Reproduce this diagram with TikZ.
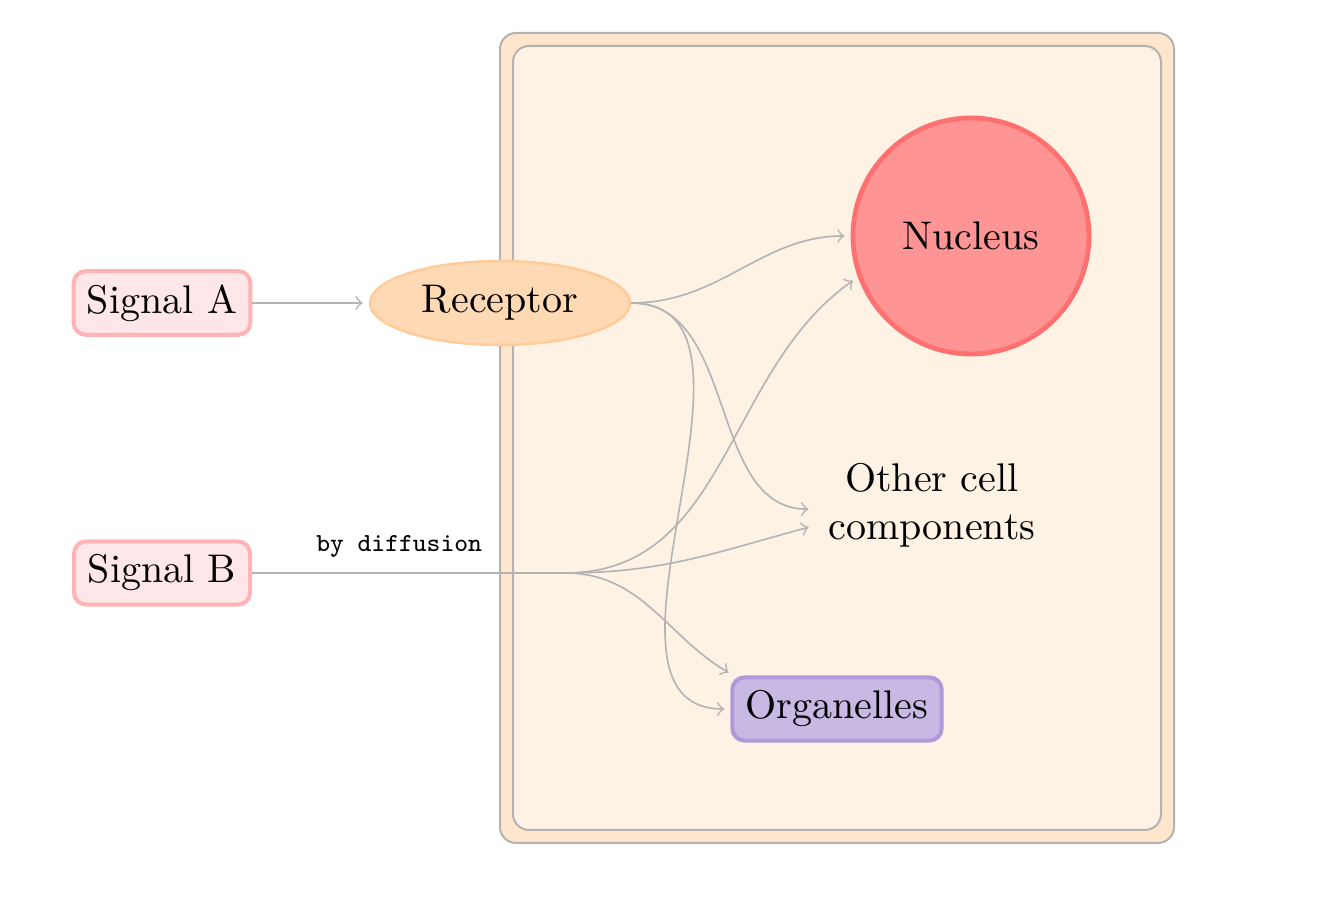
\documentclass[tikz,border=0pt]{standalone}
\usetikzlibrary{shapes.geometric}
\definecolor{conngray}{HTML}{B3B3B3}
\definecolor{cellfillA}{HTML}{FFE6CC}
\definecolor{cellfillB}{HTML}{FEF2E4}
\definecolor{sigfill}{HTML}{FFE6E8}
\definecolor{sigdraw}{HTML}{FFB3B5}
\definecolor{recfill}{HTML}{FFD9B3}
\definecolor{recdraw}{HTML}{FFCC99}
\definecolor{nucfill}{HTML}{FF9494}
\definecolor{nucdraw}{HTML}{FF7070}
\definecolor{orgfill}{HTML}{C8B8E4}
\definecolor{orgdraw}{HTML}{B099DA}
\begin{document}
\begin{tikzpicture}[x=0.25pt,y=-0.25pt,
  cellouter/.style={draw=conngray,line width=0.5pt,fill=cellfillA,rounded corners=4pt},
  cellinner/.style={draw=conngray,line width=0.5pt,fill=cellfillB,rounded corners=4pt},
  signal/.style={draw=sigdraw,fill=sigfill,line width=1pt,rounded corners=3pt,minimum width=44pt,minimum height=15pt},
  receptor/.style={ellipse,draw=recdraw,fill=recfill,line width=0.6pt,minimum width=65pt,minimum height=21pt,inner sep=0pt},
  nucleus/.style={circle,draw=nucdraw,fill=nucfill,line width=1.2pt,minimum size=59pt},
  organelle/.style={draw=orgdraw,fill=orgfill,line width=1pt,rounded corners=3pt,minimum width=52pt,minimum height=15pt},
  conn/.style={draw=conngray,line width=0.4pt},
  arr/.style={conn,->,shorten >=1.5pt},
  edgelabel/.style={font=\fontsize{6.5pt}{8pt}\selectfont\ttfamily}]
\useasboundingbox (0,0) rectangle (1332,908);
\draw[cellouter] (500,33) rectangle (1174,843);
\draw[cellinner] (513,46) rectangle (1161,830);
\coordinate (split) at (565,573);
\node[signal] (sigA) at (162,303) {Signal A};
\node[signal] (sigB) at (162,573) {Signal B};
\draw[conn] (sigB) -- node[pos=0.47,above=0.3pt,edgelabel]{by diffusion} (split);
\node[receptor] (rec) at (500,303) {Receptor};
\node[nucleus] (nuc) at (971,236) {Nucleus};
\node[align=center] (other) at (932,505) {Other cell\\components};
\node[organelle] (org) at (837,709) {Organelles};
\draw[arr] (sigA) -- (rec);
\draw[arr] (rec.east) to[out=0,in=180] (nuc.west);
\draw[arr] (rec.east) to[out=0,in=180] (other.182);
\draw[arr] (rec.east) to[out=0,in=180] (org.west);
\draw[arr] (split) to[out=0,in=215] (nuc.200);
\draw[arr] (split) to[out=0,in=195] (other.190);
\draw[arr] (split) to[out=0,in=150] (org.162);
\end{tikzpicture}
\end{document}
